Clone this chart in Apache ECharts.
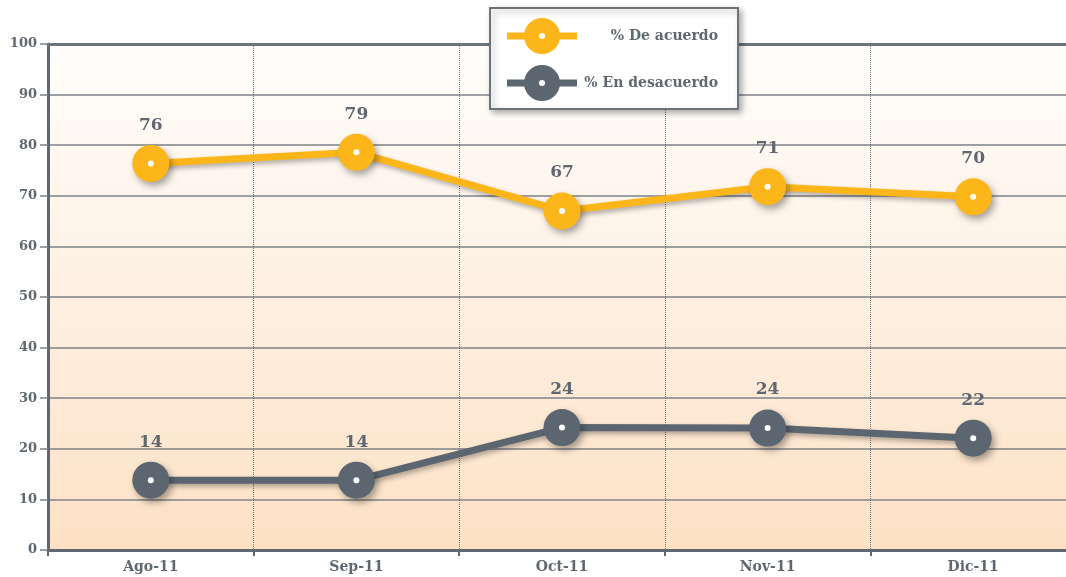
<!DOCTYPE html>
<html>
<head>
<meta charset="utf-8">
<script src="https://cdn.jsdelivr.net/npm/echarts@6/dist/echarts.min.js"></script>
<style>
html, body { margin: 0; padding: 0; background: #fff; overflow: hidden; width: 1066px; height: 577px; }
#chart { width: 1080px; height: 577px; }
</style>
</head>
<body>
<div id="chart"></div>
<script>
var months = ['Ago-11', 'Sep-11', 'Oct-11', 'Nov-11', 'Dic-11'];
var acuerdo = [76.4, 78.6, 67.0, 71.8, 69.8];
var acuerdoLabels = ['76', '79', '67', '71', '70'];
var desacuerdo = [13.8, 13.8, 24.2, 24.1, 22.1];
var desacuerdoLabels = ['14', '14', '24', '24', '22'];

var orange = '#fdb619';
var slate = '#5c6670';
var textColor = '#5f6770';
var font = '"DejaVu Serif", serif';

// legend icon: bar + big dot with a hole in the middle
var legendIcon = 'path://M0,14.5L18,14.5L18,21.5L0,21.5Z' +
    'M52,14.5L70,14.5L70,21.5L52,21.5Z' +
    'M17,18A18,18 0 1,1 53,18A18,18 0 1,1 17,18Z' +
    'M32,18A3,3 0 1,0 38,18A3,3 0 1,0 32,18Z';

function makeSeries(name, values, labels, color) {
    return {
        name: name,
        type: 'line',
        data: values,
        symbol: 'circle',
        symbolSize: 37,
        z: 3,
        lineStyle: {
            color: color,
            width: 7,
            shadowBlur: 5,
            shadowColor: 'rgba(0,0,0,0.3)',
            shadowOffsetX: 2,
            shadowOffsetY: 3
        },
        itemStyle: {
            color: color,
            shadowBlur: 7,
            shadowColor: 'rgba(0,0,0,0.35)',
            shadowOffsetX: 3,
            shadowOffsetY: 4
        },
        label: {
            show: true,
            position: 'top',
            distance: 11,
            color: textColor,
            fontFamily: font,
            fontWeight: 'bold',
            fontSize: 17,
            formatter: function (p) { return labels[p.dataIndex]; }
        },
        emphasis: { disabled: true }
    };
}

// small white dot in the middle of each marker
function makeDots(values) {
    return {
        type: 'line',
        data: values,
        symbol: 'circle',
        symbolSize: 6,
        z: 4,
        silent: true,
        lineStyle: { width: 0, opacity: 0 },
        itemStyle: { color: '#ffffff' },
        label: { show: false },
        emphasis: { disabled: true }
    };
}

var myChart = echarts.init(document.getElementById('chart'));
var option = {
    animation: false,
    grid: {
        left: 48,
        right: 4,
        top: 44,
        bottom: 27,
        show: true,
        borderWidth: 0,
        backgroundColor: new echarts.graphic.LinearGradient(0, 0, 0, 1, [
            { offset: 0, color: '#fffefc' },
            { offset: 0.5, color: '#fef0e2' },
            { offset: 1, color: '#fde1c4' }
        ])
    },
    legend: {
        orient: 'vertical',
        left: 490,
        top: 8,
        padding: [10, 20, 8, 17],
        itemWidth: 70,
        itemHeight: 36,
        itemGap: 11,
        icon: legendIcon,
        backgroundColor: '#ffffff',
        borderColor: '#6b737b',
        borderWidth: 2,
        shadowBlur: 6,
        shadowColor: 'rgba(0,0,0,0.3)',
        shadowOffsetX: 3,
        shadowOffsetY: 3,
        data: [
            { name: '% De acuerdo', itemStyle: { color: orange, borderWidth: 0, shadowBlur: 0 } },
            { name: '% En desacuerdo', itemStyle: { color: slate, borderWidth: 0, shadowBlur: 0 } }
        ],
        formatter: '{a|{name}}',
        textStyle: {
            rich: {
                a: {
                    width: 136,
                    align: 'right',
                    color: textColor,
                    fontFamily: font,
                    fontWeight: 'bold',
                    fontSize: 14
                }
            }
        }
    },
    xAxis: [{
        type: 'category',
        data: months,
        boundaryGap: true,
        axisLine: { lineStyle: { color: textColor, width: 3 } },
        axisTick: { show: true, length: 6, lineStyle: { color: textColor, width: 2 } },
        axisLabel: {
            color: textColor,
            fontFamily: font,
            fontWeight: 'bold',
            fontSize: 14,
            margin: 10
        },
        splitLine: {
            show: true,
            lineStyle: { color: '#6b737b', width: 1, type: 'dotted' }
        }
    }, {
        type: 'category',
        data: months,
        position: 'top',
        axisLine: { lineStyle: { color: '#6b737b', width: 3 } },
        axisTick: { show: false },
        axisLabel: { show: false },
        splitLine: { show: false }
    }],
    yAxis: {
        type: 'value',
        min: 0,
        max: 100,
        interval: 10,
        axisLine: { show: true, lineStyle: { color: textColor, width: 3 } },
        axisTick: { show: true, length: 8, lineStyle: { color: '#7d8288', width: 1.5 } },
        axisLabel: {
            color: textColor,
            fontFamily: font,
            fontWeight: 'bold',
            fontSize: 13,
            margin: 11
        },
        splitLine: { lineStyle: { color: '#7d8288', width: 1.5 } }
    },
    series: [
        makeSeries('% De acuerdo', acuerdo, acuerdoLabels, orange),
        makeSeries('% En desacuerdo', desacuerdo, desacuerdoLabels, slate),
        makeDots(acuerdo),
        makeDots(desacuerdo)
    ]
};
if (option && typeof option === "object") {
    myChart.setOption(option, true);
}
</script>
</body>
</html>
